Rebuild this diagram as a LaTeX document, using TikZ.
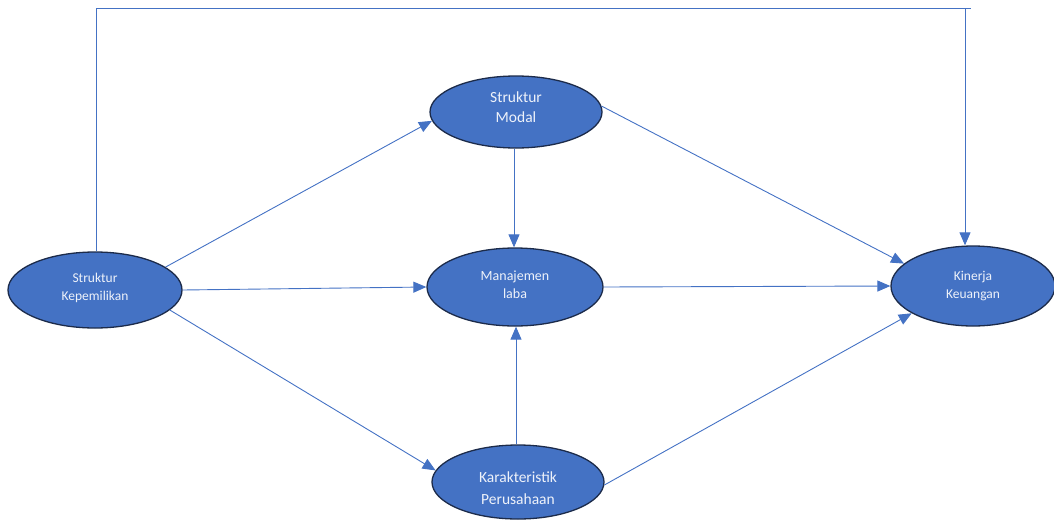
\documentclass[tikz,border=0pt]{standalone}
\usepackage{fontspec}
\setmainfont{Carlito}
\usetikzlibrary{shapes.geometric,arrows.meta}
\definecolor{nodefill}{HTML}{4472C4}
\definecolor{nodeedge}{HTML}{1C2B4A}
\definecolor{linkcol}{HTML}{4472C4}
\definecolor{labelcol}{HTML}{EEF2FA}
\tikzset{
  var/.style={ellipse, draw=nodeedge, line width=1.3pt, fill=nodefill,
    text=labelcol, inner sep=0pt, align=center},
  link/.style={draw=linkcol, line width=0.9pt, -{Triangle[length=13pt,width=11pt]}},
  plain/.style={draw=linkcol, line width=0.9pt}
}
% zero-width strut to nudge a label off the ellipse centre
\newcommand{\dn}[1]{\rule[-#1]{0pt}{0pt}}
\newcommand{\up}[1]{\rule{0pt}{#1}}
\begin{document}
\begin{tikzpicture}[x=1pt,y=-1pt]
\useasboundingbox (0,0) rectangle (1054,525);
\node[var, minimum width=174pt, minimum height=76pt, font=\fontsize{13.5}{18}\selectfont]
  (own) at (95,290) {Struktur\\Kepemilikan\dn{7pt}};
\node[var, minimum width=172pt, minimum height=72pt, font=\fontsize{15.5}{20}\selectfont]
  (cap) at (516,112) {Struktur\\Modal\dn{9pt}};
\node[var, minimum width=176pt, minimum height=78pt, font=\fontsize{14}{18}\selectfont]
  (earn) at (515,287) {Manajemen\\laba\dn{5pt}};
\node[var, minimum width=172pt, minimum height=74pt, font=\fontsize{15.5}{22}\selectfont]
  (firm) at (518,482) {\up{24pt}Karakteristik\\Perusahaan};
\node[var, minimum width=164pt, minimum height=80pt, font=\fontsize{13.5}{18}\selectfont]
  (perf) at (973,286) {Kinerja\\Keuangan};

\coordinate (tl) at (96,8);
\coordinate (tr) at (971,8);
\coordinate (td) at (965,8);

% direct path across the top
\draw[plain] (own.north -| tl) -- (tl) -- (tr);
\draw[link] (td) -- (td |- perf.north);

% paths from ownership structure
\draw[link] (own.18) -- (cap.186);
\draw[link] (own.east) -- (earn.west);
\draw[link] (own.-15) -- (firm.172);

% mediator paths
\draw[link] (cap.south -| 514,0) -- (earn.north -| 514,0);
\draw[link] (firm.north -| 516,0) -- (earn.south -| 516,0);

% paths into financial performance
\draw[link] (cap.4) -- (perf.162);
\draw[link] (earn.east) -- (perf.west);
\draw[link] (firm.-2) -- (perf.204);
\end{tikzpicture}
\end{document}
